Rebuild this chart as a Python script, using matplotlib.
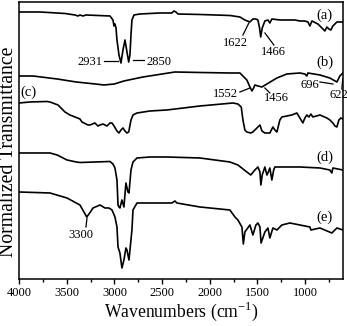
import matplotlib
matplotlib.use("Agg")
import matplotlib.pyplot as plt
from matplotlib.ticker import MultipleLocator, FixedLocator

plt.rcParams['font.family'] = ['Liberation Serif', 'DejaVu Serif']
plt.rcParams['mathtext.fontset'] = 'custom'
plt.rcParams['mathtext.rm'] = 'Liberation Serif'

# ---- data (wavenumber, offset transmittance) ----
a_wn = [4000, 3780, 3518, 3413, 3382, 3361, 3329, 3298, 3172, 3046, 3015, 3004, 2994, 2983, 2973,
        2952, 2931, 2910, 2889, 2868, 2850, 2837, 2826, 2816, 2795, 2732, 2522, 2397, 2376, 2355,
        2334, 2103, 1789, 1684, 1632, 1579, 1548, 1516, 1495, 1478, 1466, 1450, 1422, 1390, 1370,
        1349, 1265, 1107, 1055, 1003, 971, 950, 929, 866, 824, 793, 772, 751, 730, 709, 667, 604]
a_y = [268, 268, 266.5, 265, 264, 265, 264, 265, 264.5, 264, 260, 254, 256, 252, 240,
       225, 217, 230, 240, 228, 218, 225, 245, 260, 265, 266, 267, 267, 269, 268,
       266, 265.5, 264.5, 263, 260, 258, 261, 261, 260, 252, 243, 252, 259, 260, 257,
       261, 260, 260, 259, 259, 258, 254, 259, 256, 252, 249, 253, 251, 250, 254, 258, 258]

b_wn = [4000, 3853, 3600, 3400, 3200, 3110, 3000, 2900, 2700, 2365, 2103, 1789, 1684, 1611,
        1579, 1558, 1540, 1527, 1495, 1453, 1401, 1296, 1192, 1055, 1003, 982, 971, 845, 741,
        667, 636, 604]
b_y = [204, 204, 201, 198, 196, 195, 196, 199, 203, 208, 207.5, 207, 207, 200,
       193, 189, 192, 195, 194, 193, 196, 202, 206, 207, 206, 204, 207, 205, 202,
       198, 204, 207]

c_wn = [4000, 3885, 3707, 3675, 3591, 3570, 3518, 3466, 3413, 3361, 3340, 3277, 3256, 3204,
        3172, 3151, 3120, 3078, 3046, 3025, 3004, 2973, 2952, 2931, 2910, 2889, 2868, 2850,
        2826, 2805, 2763, 2627, 2449, 2103, 1757, 1705, 1670, 1652, 1632, 1611, 1570, 1548,
        1516, 1495, 1474, 1453, 1422, 1370, 1338, 1317, 1296, 1265, 1244, 1139, 1087, 1055,
        1024, 1003, 982, 960, 940, 919, 845, 772, 741, 709, 688, 667, 646, 625, 604]
c_y = [177, 178, 178.5, 178, 175, 173, 168, 165, 163, 161, 158, 155, 155, 157,
       154, 155, 156, 154, 157, 157, 154, 149, 147, 150, 152, 149, 147, 148,
       160, 165, 167, 169, 170, 174, 177, 176, 173, 160, 150, 148, 147, 148,
       151, 153, 155, 149, 147, 147, 153, 150, 148, 160, 163, 165, 167, 162,
       157, 162, 165, 163, 166, 163, 165, 162, 160, 157, 154, 153, 160, 162, 161]

d_wn = [4000, 3853, 3675, 3600, 3497, 3400, 3361, 3200, 3046, 3015, 2994, 2973, 2962, 2952,
        2942, 2921, 2900, 2879, 2858, 2847, 2826, 2805, 2763, 2627, 2449, 2103, 1789, 1705,
        1611, 1570, 1527, 1495, 1474, 1464, 1450, 1422, 1401, 1390, 1370, 1349, 1330, 1317,
        1265, 1055, 845, 741, 720, 709, 604]
d_y = [127, 127, 127, 125, 120, 118, 117.5, 118, 118.5, 116, 112, 100, 75, 73,
       72, 80, 73, 97, 88, 87, 110, 118, 122, 123, 123, 122, 118, 115,
       108, 105, 110, 113, 108, 95, 105, 113, 105, 107, 112, 100, 110, 113,
       113, 113, 112, 110, 107, 112, 110]

e_wn = [4000, 3675, 3497, 3361, 3290, 3266, 3224, 3151, 3099, 3057, 3025, 2994, 2973, 2962,
        2942, 2921, 2900, 2879, 2868, 2847, 2816, 2805, 2763, 2627, 2397, 2365, 2345, 2103,
        1789, 1736, 1705, 1663, 1648, 1632, 1579, 1548, 1516, 1495, 1474, 1462, 1422, 1390,
        1370, 1338, 1296, 1244, 1160, 950, 940, 845, 720, 667, 604]
e_y = [88, 87, 82, 75, 63, 66, 72, 75, 72, 72, 70, 63, 53, 33,
       27, 12, 20, 32, 30, 20, 50, 70, 77, 77, 77, 79, 77, 73,
       70, 63, 60, 53, 36, 48, 55, 45, 55, 57, 53, 37, 48, 52,
       42, 52, 50, 55, 57, 53, 50, 52, 47, 52, 50]

curve_labels = ['(a)', '(b)', '(c)', '(d)', '(e)']
xtick_values = [4000, 3500, 3000, 2500, 2000, 1500, 1000]

# ---- figure ----
fig = plt.figure(figsize=(3.47, 3.26), dpi=100)
ax = fig.add_axes([0.0548, 0.1442, 0.9345, 0.8497])

for wn, y in [(a_wn, a_y), (b_wn, b_y), (c_wn, c_y), (d_wn, d_y), (e_wn, e_y)]:
    ax.plot(wn, y, color='black', lw=1.2, solid_joinstyle='round')

ax.set_xlim(4000, 600)
ax.set_ylim(1, 278)
ax.set_yticks([])
ax.xaxis.set_major_locator(FixedLocator(xtick_values))
ax.set_xticklabels([str(v) for v in xtick_values])
ax.xaxis.set_minor_locator(MultipleLocator(250))
ax.tick_params(axis='x', which='major', direction='out', length=3.5, width=1.0,
               labelsize=9, pad=2)
ax.tick_params(axis='x', which='minor', direction='out', length=2, width=1.0)
for s in ax.spines.values():
    s.set_linewidth(1.1)

ax.set_xlabel('Wavenumbers (cm$^{\\mathregular{-1}}$)', fontsize=12.7, labelpad=1)
fig.text(9.0 / 347, 0.535, 'Normalized Transmittance', fontsize=14.2,
         rotation=90, ha='center', va='center')

# curve labels
lab_pos = [(793, 265), (793, 218), (3906, 188), (793, 123), (793, 63)]
for t, (x, y) in zip(curve_labels, lab_pos):
    ax.text(x, y, t, fontsize=10.5, ha='center', va='center')

# peak annotations: text, text position, leader line
ann = [
    ('2931', (3256, 218), [(3109, 2962), (219, 219)]),
    ('2850', (2533, 218), [(2805, 2690), (220, 220)]),
    ('1622', (1736, 237), [(1652, 1590), (245, 257)]),
    ('1466', (1328, 228), [(1422, 1328), (247, 235)]),
    ('1552', (1831, 186), [(1684, 1579), (188, 192)]),
    ('1456', (1296, 182), [(1422, 1370), (192, 187)]),
    ('696', (950, 195), [(845, 709), (198, 196)]),
    ('622', (646, 185), [(615, 606), (191, 201)]),
    ('3300', (3350, 45), [(3287, 3298), (62, 53)]),
]
for t, (x, y), (lx, ly) in ann:
    ax.text(x, y, t, fontsize=9, ha='center', va='center')
    ax.plot(lx, ly, color='black', lw=0.9)

fig.savefig('out.png', dpi=100)
